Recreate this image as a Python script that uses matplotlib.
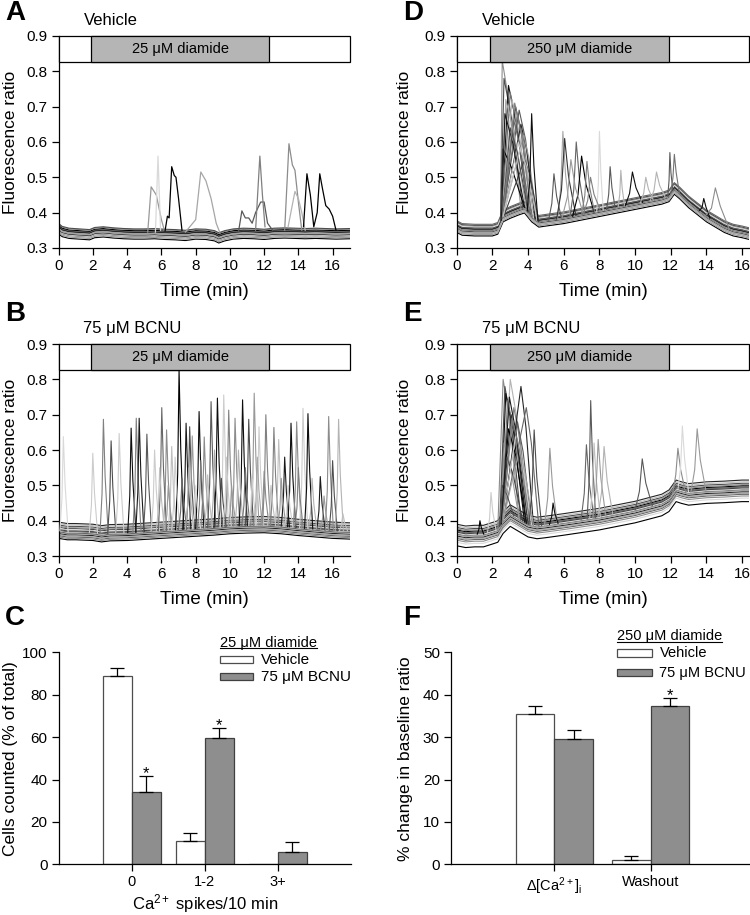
import numpy as np
import matplotlib as mpl
mpl.use('Agg')
import matplotlib.pyplot as plt
from matplotlib.patches import Rectangle

plt.rcParams['font.family'] = ['Liberation Sans', 'DejaVu Sans']
plt.rcParams['mathtext.fontset'] = 'custom'
plt.rcParams['mathtext.rm'] = 'Liberation Sans'
plt.rcParams['mathtext.it'] = 'Liberation Sans:italic'

# ---------------- data ----------------
# panel A: 25 uM diamide, vehicle (baseline profile + trace offsets)
a_knot_t = [0, 0.2, 0.6, 1.2, 1.8, 2.1, 2.6, 3.2, 3.8, 4.4, 5.0, 5.6, 6.2, 6.8, 7.4, 8.0,
            8.6, 9.1, 9.35, 9.7, 10.2, 10.8, 11.4, 12.0, 12.6, 13.2, 13.8, 14.4, 15.0, 15.6, 16.2, 17.0]
a_knot_v = [0.356, 0.348, 0.343, 0.341, 0.339, 0.345, 0.347, 0.344, 0.342, 0.341, 0.341, 0.342,
            0.340, 0.339, 0.337, 0.341, 0.340, 0.336, 0.330, 0.336, 0.341, 0.343, 0.342, 0.340,
            0.343, 0.344, 0.343, 0.342, 0.343, 0.342, 0.341, 0.342]
a_offsets = [-0.016, -0.012, -0.009, -0.006, -0.004, -0.002, 0.0, 0.002, 0.004, 0.006,
             0.008, 0.011, 0.013, -0.010, 0.003, -0.001]
# spikes in A: explicit points
a_spike_t = [[5.2, 5.4, 5.7, 6.0, 6.2],
             [5.65, 5.8, 5.95],
             [6.2, 6.35, 6.45, 6.6, 6.75, 6.85, 7.0, 7.2],
             [7.4, 8.0, 8.3, 8.6, 8.9, 9.2, 9.4],
             [10.5, 10.7, 10.9, 11.1, 11.3, 11.5, 11.8, 12.0, 12.2, 12.5],
             [11.5, 11.75, 11.9, 12.05],
             [13.2, 13.45, 13.65, 13.8, 14.0, 14.2],
             [13.4, 13.8, 14.0, 14.2, 14.4],
             [14.3, 14.5, 14.7, 14.9, 15.1, 15.25, 15.4, 15.6, 15.8, 16.0, 16.2]]
a_spike_v = [[0.345, 0.473, 0.45, 0.38, 0.345],
             [0.345, 0.56, 0.35],
             [0.345, 0.39, 0.385, 0.53, 0.505, 0.50, 0.44, 0.35],
             [0.345, 0.38, 0.515, 0.49, 0.44, 0.37, 0.345],
             [0.345, 0.405, 0.385, 0.385, 0.37, 0.40, 0.43, 0.43, 0.37, 0.35],
             [0.35, 0.56, 0.45, 0.36],
             [0.35, 0.595, 0.535, 0.52, 0.43, 0.35],
             [0.36, 0.46, 0.44, 0.40, 0.35],
             [0.36, 0.51, 0.45, 0.36, 0.40, 0.51, 0.47, 0.42, 0.41, 0.39, 0.35]]
a_spike_c = ['0.6', '0.85', '0.0', '0.65', '0.35', '0.5', '0.55', '0.7', '0.0']

# panel B: 25 uM diamide + 75 uM BCNU
b_knot_t = [0, 0.5, 1, 2, 2.5, 3, 4, 5, 6, 7, 8, 9, 10, 11, 12, 13, 14, 15, 16, 17]
b_knot_v = [0.372, 0.368, 0.368, 0.366, 0.362, 0.365, 0.366, 0.369, 0.372, 0.375, 0.378,
            0.381, 0.385, 0.387, 0.388, 0.385, 0.38, 0.376, 0.372, 0.370]
b_offsets = [-0.022, -0.018, -0.014, -0.011, -0.008, -0.005, -0.003, 0.0, 0.003, 0.006,
             0.009, 0.012, 0.016, 0.02, 0.024, -0.012, 0.001, 0.007]
b_spike_t = [0.27, 1.99, 2.61, 3.06, 3.53, 4.23, 4.53, 4.7, 5.15, 5.6, 6.02, 6.3, 6.6, 7.03,
             7.44, 7.65, 7.8, 8.2, 8.5, 8.9, 9.27, 9.64, 9.93, 10.3, 10.74, 11.1, 11.42, 11.7,
             12.1, 12.57, 12.85, 13.2, 13.57, 13.9, 14.27, 14.56, 15.28, 15.77, 16.0, 16.35,
             # lower, overlapping events
             5.9, 6.4, 6.8, 7.2, 7.6, 8.0, 8.3, 8.7, 9.1, 9.5, 9.8, 10.1, 10.5, 10.9, 11.3,
             11.6, 12.0, 12.4, 13.0, 13.4, 14.0, 14.8, 15.5, 16.6]
b_spike_v = [0.638, 0.591, 0.687, 0.626, 0.647, 0.662, 0.69, 0.69, 0.645, 0.60, 0.72, 0.657,
             0.61, 0.827, 0.676, 0.666, 0.64, 0.709, 0.637, 0.737, 0.747, 0.756, 0.713, 0.69,
             0.742, 0.687, 0.761, 0.666, 0.70, 0.664, 0.63, 0.58, 0.676, 0.68, 0.718, 0.703,
             0.525, 0.695, 0.57, 0.687,
             0.55, 0.50, 0.58, 0.52, 0.55, 0.50, 0.57, 0.53, 0.60, 0.52, 0.58, 0.50, 0.60,
             0.55, 0.52, 0.58, 0.54, 0.50, 0.52, 0.50, 0.55, 0.52, 0.47, 0.42]
b_spike_c = ['0.85', '0.8', '0.5', '0.3', '0.8', '0.05', '0.5', '0.1', '0.35', '0.8',
             '0.4', '0.55', '0.75', '0.0', '0.1', '0.3', '0.6', '0.05', '0.55', '0.35',
             '0.05', '0.8', '0.5', '0.55', '0.05', '0.3', '0.6', '0.8', '0.5', '0.5',
             '0.75', '0.1', '0.05', '0.55', '0.8', '0.05', '0.1', '0.55', '0.3', '0.7',
             '0.75', '0.6', '0.8', '0.4', '0.7', '0.85', '0.5', '0.75', '0.65', '0.3',
             '0.8', '0.6', '0.7', '0.45', '0.8', '0.65', '0.55', '0.75', '0.6', '0.8',
             '0.5', '0.7', '0.6', '0.75']

# panel D: 250 uM diamide, vehicle
d_knot_t = [0, 0.3, 1, 2, 2.3, 2.6, 3.0, 3.5, 3.8, 4.2, 4.6, 5, 6, 8, 10, 11.5, 11.9, 12.2,
            12.5, 13, 14, 15, 15.5, 16, 16.4]
d_knot_v = [0.36, 0.352, 0.35, 0.35, 0.355, 0.39, 0.40, 0.41, 0.415, 0.39, 0.375, 0.378,
            0.385, 0.405, 0.425, 0.44, 0.447, 0.468, 0.455, 0.43, 0.39, 0.36, 0.35, 0.345, 0.34]
d_offsets = [-0.016, -0.012, -0.009, -0.006, -0.004, -0.002, 0.0, 0.002, 0.004, 0.006,
             0.008, 0.011, 0.014, -0.01, 0.003, -0.007, 0.017, 0.009]
d_big_on = [2.45, 2.45, 2.5, 2.5, 2.5, 2.5, 2.55, 2.55, 2.6, 2.6, 2.5, 2.6, 2.65, 2.6, 2.5, 2.55,
            2.5, 2.55, 2.6]
d_big_pk_t = [2.55, 2.65, 2.9, 3.0, 3.1, 3.3, 3.4, 3.5, 3.6, 3.75, 2.6, 3.2, 3.8, 3.45, 2.75,
              3.0, 2.7, 3.25, 3.55]
d_big_pk_v = [0.83, 0.78, 0.76, 0.74, 0.72, 0.70, 0.68, 0.69, 0.65, 0.62, 0.58, 0.66, 0.55,
              0.60, 0.72, 0.64, 0.68, 0.71, 0.58]
d_big_end = [3.6, 3.7, 4.0, 4.0, 4.1, 4.2, 4.3, 4.4, 4.4, 4.5, 3.8, 4.1, 4.6, 4.3, 3.9, 4.0,
             3.8, 4.2, 4.5]
d_spike_t = [4.2, 5.45, 5.95, 6.05, 6.7, 7.0, 7.3, 8.0, 8.6, 9.2, 9.85, 10.6, 11.2, 11.95,
             12.2, 13.85, 14.5, 6.4, 7.5]
d_spike_v = [0.68, 0.51, 0.63, 0.61, 0.60, 0.56, 0.545, 0.63, 0.53, 0.52, 0.515, 0.50, 0.515,
             0.57, 0.565, 0.44, 0.47, 0.55, 0.50]
d_spike_w = [0.25, 0.3, 0.3, 0.45, 0.35, 0.5, 0.3, 0.15, 0.2, 0.15, 0.4, 0.3, 0.35, 0.12,
             0.2, 0.25, 0.55, 0.5, 0.4]
d_spike_c = ['0.05', '0.35', '0.65', '0.2', '0.4', '0.0', '0.5', '0.85', '0.35', '0.7',
             '0.05', '0.7', '0.7', '0.35', '0.45', '0.05', '0.55', '0.6', '0.5']

# panel E: 250 uM diamide + 75 uM BCNU
e_knot_t = [0, 0.5, 1, 1.5, 2, 2.3, 2.6, 3.0, 3.5, 4.0, 4.5, 5, 6, 8, 10, 11.5, 11.9, 12.3,
            12.6, 13, 14, 15, 16, 16.4]
e_knot_v = [0.365, 0.36, 0.362, 0.362, 0.37, 0.375, 0.40, 0.42, 0.405, 0.39, 0.385, 0.388,
            0.395, 0.41, 0.43, 0.45, 0.462, 0.49, 0.485, 0.48, 0.485, 0.487, 0.49, 0.49]
e_offsets = [-0.036, -0.02, -0.015, -0.011, -0.008, -0.005, -0.002, 0.0, 0.003, 0.006,
             0.009, 0.012, 0.016, 0.02, 0.025, -0.013, 0.005, -0.026]
e_big_on = [2.3, 2.4, 2.45, 2.5, 2.5, 2.5, 2.55, 2.55, 2.6, 2.45, 2.5, 2.6, 2.5, 2.55, 2.6, 2.45,
            2.5, 2.55]
e_big_pk_t = [2.6, 2.7, 2.75, 2.85, 3.0, 3.05, 3.2, 3.4, 3.6, 2.65, 2.9, 3.9, 2.8, 3.3, 3.5,
              2.55, 2.95, 3.1]
e_big_pk_v = [0.80, 0.78, 0.76, 0.74, 0.80, 0.70, 0.72, 0.68, 0.78, 0.62, 0.66, 0.72, 0.58,
              0.64, 0.60, 0.50, 0.75, 0.69]
e_big_end = [3.5, 3.6, 3.8, 3.9, 4.0, 4.0, 4.1, 4.2, 4.3, 3.5, 3.9, 4.6, 3.7, 4.2, 4.3, 3.2,
             3.9, 4.1]
e_spike_t = [1.3, 1.92, 4.34, 5.22, 5.4, 7.27, 7.51, 7.7, 7.93, 8.26, 10.4, 12.4, 12.65, 13.48]
e_spike_v = [0.40, 0.48, 0.657, 0.605, 0.45, 0.615, 0.74, 0.62, 0.63, 0.61, 0.575, 0.605,
             0.668, 0.66]
e_spike_w = [0.15, 0.2, 0.3, 0.3, 0.2, 0.3, 0.2, 0.25, 0.3, 0.35, 0.4, 0.3, 0.25, 0.35]
e_spike_c = ['0.0', '0.8', '0.3', '0.6', '0.05', '0.4', '0.35', '0.75', '0.6', '0.7',
             '0.35', '0.55', '0.85', '0.6']

big_shades = ['0.55', '0.3', '0.05', '0.45', '0.7', '0.2', '0.5', '0.35', '0.15', '0.6',
              '0.0', '0.4', '0.25', '0.8', '0.65', '0.3', '0.1', '0.5', '0.75']
base_shades = ['0.0', '0.55', '0.3', '0.75', '0.15', '0.65', '0.4', '0.85', '0.2', '0.5']

# stimulus bars
stim_25 = (1.9, 12.3)
stim_250 = (1.85, 11.9)

# panel C: spike counts
c_cats = ['0', '1-2', '3+']
c_veh = [88.8, 11.1, 0.0]
c_veh_sem = [3.9, 3.8, 0.0]
c_bcnu = [34.2, 59.7, 5.8]
c_bcnu_sem = [7.4, 4.7, 4.9]
c_star = [True, True, False]

# panel F: baseline change
f_cats = ['\u0394[Ca$\\mathregular{^{2+}}$]$\\mathregular{_i}$', 'Washout']
f_veh = [35.4, 0.95]
f_veh_sem = [2.0, 1.0]
f_bcnu = [29.5, 37.3]
f_bcnu_sem = [2.1, 1.9]
f_star = [False, True]

# ---------------- helpers ----------------
LW = 0.8


def style_axes(ax):
    for s in ['top', 'right']:
        ax.spines[s].set_visible(False)
    for s in ['left', 'bottom']:
        ax.spines[s].set_linewidth(0.9)
    ax.tick_params(direction='out', length=5, width=0.9, labelsize=11, pad=3)


def stim_bar(ax, start, end, tmax, label):
    y0, y1 = 0.826, 0.9
    ax.add_patch(Rectangle((0, y0), tmax, y1 - y0, facecolor='white', edgecolor='black',
                           lw=0.9, zorder=5, clip_on=False))
    ax.add_patch(Rectangle((start, y0), end - start, y1 - y0, facecolor='#b5b5b5',
                           edgecolor='black', lw=0.9, zorder=6, clip_on=False))
    ax.text((start + end) / 2, (y0 + y1) / 2, label, ha='center', va='center',
            fontsize=10.5, zorder=7)


def baselines(ax, kt, kv, offsets):
    kv = np.array(kv)
    for i, off in enumerate(offsets):
        ax.plot(kt, kv + off, color=base_shades[i % len(base_shades)], lw=LW, zorder=2)


def spike(ax, kt, kv, t, peak, color, w=0.2):
    ts = [t - w, t - 0.4 * w, t, t + 0.5 * w, t + 1.4 * w]
    b = np.interp(ts, kt, kv)
    vs = [b[0], b[1] + 0.35 * (peak - b[1]), peak, b[3] + 0.5 * (peak - b[3]), b[4]]
    ax.plot(ts, vs, color=color, lw=LW, zorder=3)


def big_response(ax, kt, kv, on, pk_t, pk_v, end, color):
    ts = [on, pk_t, pk_t + 0.4 * (end - pk_t), end]
    b = np.interp(ts, kt, kv)
    vs = [b[0], pk_v, pk_v - 0.3 * (pk_v - b[2]), b[3]]
    ax.plot(ts, vs, color=color, lw=LW, zorder=3)


def trace_axes(ax, tmax, stim, stim_label, title, ylab_x):
    style_axes(ax)
    ax.set_xlim(0, tmax)
    ax.set_ylim(0.3, 0.9)
    ax.set_xticks(range(0, 17, 2))
    ax.set_yticks([0.3, 0.4, 0.5, 0.6, 0.7, 0.8, 0.9])
    ax.set_yticklabels(['0.3', '0.4', '0.5', '0.6', '0.7', '0.8', '0.9'])
    ax.set_xlabel('Time (min)', fontsize=13.5)
    ax.xaxis.set_label_coords(0.5, -0.165)
    ax.set_ylabel('Fluorescence ratio', fontsize=12.5)
    ax.yaxis.set_label_coords(ylab_x, 0.5)
    stim_bar(ax, stim[0], stim[1], tmax, stim_label)
    ax.text(0.085, 1.075, title, transform=ax.transAxes, fontsize=12, va='center')


fig = plt.figure(figsize=(7.5, 9.15), dpi=100)

H = 0.2317
axA = fig.add_axes([0.0783, 0.729, 0.388, H])
axD = fig.add_axes([0.609, 0.729, 0.390, H])
axB = fig.add_axes([0.0783, 0.3923, 0.388, H])
axE = fig.add_axes([0.609, 0.3923, 0.390, H])
axC = fig.add_axes([0.0783, 0.0554, 0.3893, H])
axF = fig.add_axes([0.6013, 0.0554, 0.3977, H])

mu = '\u03bc'

# A
baselines(axA, a_knot_t, a_knot_v, a_offsets)
for ts, vs, c in zip(a_spike_t, a_spike_v, a_spike_c):
    axA.plot(ts, vs, color=c, lw=0.9, zorder=3)
trace_axes(axA, 17, stim_25, '25 ' + mu + 'M diamide', 'Vehicle', -0.14)

# B
baselines(axB, b_knot_t, b_knot_v, b_offsets)
for t, v, c in zip(b_spike_t, b_spike_v, b_spike_c):
    spike(axB, b_knot_t, b_knot_v, t, v, c, w=0.2)
trace_axes(axB, 17, stim_25, '25 ' + mu + 'M diamide', '75 ' + mu + 'M BCNU', -0.14)

# D
baselines(axD, d_knot_t, d_knot_v, d_offsets)
for i in range(len(d_big_on)):
    big_response(axD, d_knot_t, d_knot_v, d_big_on[i], d_big_pk_t[i], d_big_pk_v[i],
                 d_big_end[i], big_shades[i])
for t, v, w, c in zip(d_spike_t, d_spike_v, d_spike_w, d_spike_c):
    spike(axD, d_knot_t, d_knot_v, t, v, c, w=w)
trace_axes(axD, 16.4, stim_250, '250 ' + mu + 'M diamide', 'Vehicle', -0.153)

# E
baselines(axE, e_knot_t, e_knot_v, e_offsets)
for i in range(len(e_big_on)):
    big_response(axE, e_knot_t, e_knot_v, e_big_on[i], e_big_pk_t[i], e_big_pk_v[i],
                 e_big_end[i], big_shades[i])
for t, v, w, c in zip(e_spike_t, e_spike_v, e_spike_w, e_spike_c):
    spike(axE, e_knot_t, e_knot_v, t, v, c, w=w)
trace_axes(axE, 16.4, stim_250, '250 ' + mu + 'M diamide', '75 ' + mu + 'M BCNU', -0.153)


def bar_panel(ax, cats, veh, veh_sem, bcnu, bcnu_sem, stars, xs):
    style_axes(ax)
    xs = np.array(xs, dtype=float)
    ax.bar(xs - 0.2, veh, width=0.4, color='white', edgecolor='0.3', lw=0.9, zorder=2)
    ax.bar(xs + 0.2, bcnu, width=0.4, color='#8e8e8e', edgecolor='0.25', lw=0.9, zorder=2)
    for x, m, s in zip(xs - 0.2, veh, veh_sem):
        if s > 0:
            ax.errorbar(x, m, yerr=[[0], [s]], fmt='none', ecolor='black', elinewidth=0.9,
                        capsize=5, capthick=0.9, zorder=3)
    for x, m, s, st in zip(xs + 0.2, bcnu, bcnu_sem, stars):
        ax.errorbar(x, m, yerr=[[0], [s]], fmt='none', ecolor='black', elinewidth=0.9,
                    capsize=5, capthick=0.9, zorder=3)
        if st:
            ax.annotate('*', (x, m + s), xytext=(0, -1.5), textcoords='offset points',
                        ha='center', va='baseline', fontsize=12)
    ax.set_xticks(xs)
    ax.set_xticklabels(cats)
    ax.tick_params(axis='x', length=5, pad=3, labelsize=10.5)


def legend_block(ax, x0, y_title, title, y1, y2, bw, fs):
    t = ax.text(x0, y_title, title, transform=ax.transAxes, fontsize=10.5, va='center',
                ha='left', clip_on=False)
    fig.canvas.draw()
    bb = t.get_window_extent().transformed(ax.transAxes.inverted())
    ax.plot([bb.x0, bb.x1], [bb.y0 + 0.006, bb.y0 + 0.006], color='black', lw=0.8,
            transform=ax.transAxes, clip_on=False)
    ax.add_patch(Rectangle((x0, y1 - 0.017), bw, 0.034, transform=ax.transAxes,
                           facecolor='white', edgecolor='0.3', lw=0.9, clip_on=False))
    ax.add_patch(Rectangle((x0, y2 - 0.017), bw, 0.034, transform=ax.transAxes,
                           facecolor='#8e8e8e', edgecolor='0.25', lw=0.9, clip_on=False))
    ax.text(x0 + bw + 0.025, y1, 'Vehicle', transform=ax.transAxes, fontsize=fs,
            va='center', ha='left')
    ax.text(x0 + bw + 0.025, y2, '75 ' + mu + 'M BCNU', transform=ax.transAxes,
            fontsize=fs, va='center', ha='left')


# C
bar_panel(axC, c_cats, c_veh, c_veh_sem, c_bcnu, c_bcnu_sem, c_star, [1, 2, 3])
axC.set_xlim(0, 4)
axC.set_ylim(0, 100)
axC.set_yticks(range(0, 101, 20))
axC.set_ylabel('Cells counted (% of total)', fontsize=12.5)
axC.yaxis.set_label_coords(-0.14, 0.5)
axC.set_xlabel('Ca$\\mathregular{^{2+}}$ spikes/10 min', fontsize=12)
axC.xaxis.set_label_coords(0.5, -0.132)
legend_block(axC, 0.552, 1.045, '25 ' + mu + 'M diamide', 0.965, 0.885, 0.115, 11)

# F
bar_panel(axF, f_cats, f_veh, f_veh_sem, f_bcnu, f_bcnu_sem, f_star, [1, 2])
axF.set_xlim(-0.07, 3.02)
axF.set_ylim(0, 50)
axF.set_yticks(range(0, 51, 10))
axF.set_ylabel('% change in baseline ratio', fontsize=12.5)
axF.yaxis.set_label_coords(-0.127, 0.5)
legend_block(axF, 0.556, 1.075, '250 ' + mu + 'M diamide', 0.997, 0.903, 0.118, 10.5)

# panel letters
for letter, x, y in [('A', 0.007, 0.986), ('B', 0.007, 0.657), ('C', 0.007, 0.325),
                     ('D', 0.537, 0.986), ('E', 0.537, 0.657), ('F', 0.537, 0.325)]:
    fig.text(x, y, letter, fontsize=20, fontweight='bold', va='center', ha='left')

fig.savefig('out.png', dpi=100)
